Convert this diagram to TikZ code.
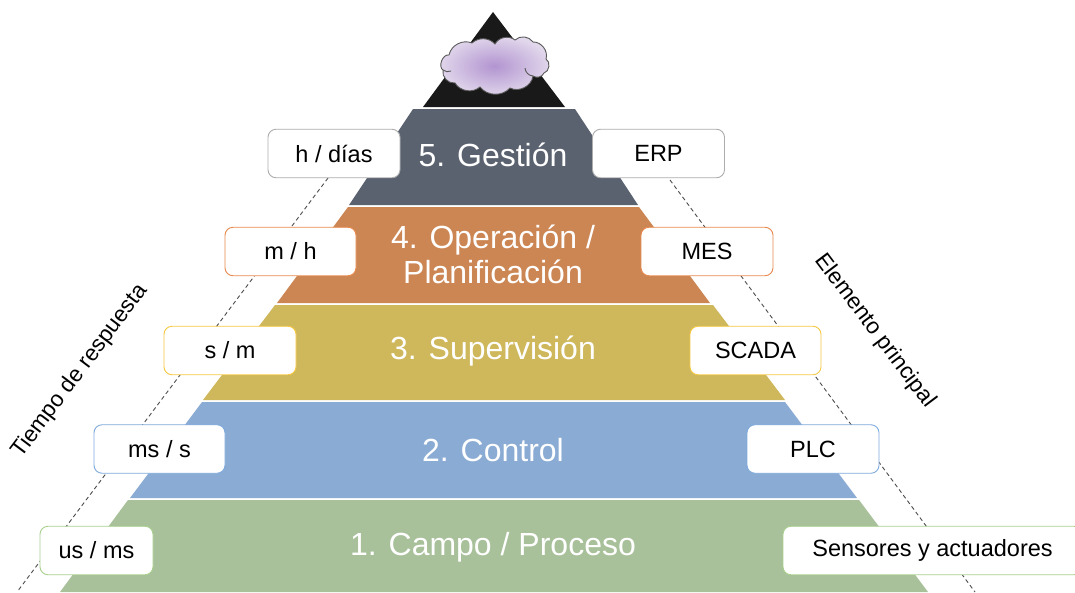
\documentclass[tikz,border=0pt]{standalone}
\usepackage{fontspec}
\setmainfont{Liberation Sans}
\definecolor{cTop}{HTML}{191919}
\definecolor{cGes}{HTML}{5A6270}
\definecolor{cOpe}{HTML}{CC8654}
\definecolor{cSup}{HTML}{CFB85C}
\definecolor{cCon}{HTML}{8AABD3}
\definecolor{cCam}{HTML}{A8C19A}
\definecolor{bGes}{HTML}{ADADAD}
\definecolor{bOpe}{HTML}{E8894E}
\definecolor{bSup}{HTML}{F5C842}
\definecolor{bCon}{HTML}{7EA9DC}
\definecolor{bCam}{HTML}{A9D08E}
\tikzset{
  tagbox/.style={draw=#1,fill=white,line width=0.9pt,rounded corners=8pt,minimum height=48.5pt,inner sep=0pt,text=black,font=\fontsize{23.5}{26}\selectfont},
  lvl/.style={text=white,font=\fontsize{32}{36}\selectfont,align=center,inner sep=0pt},
  side/.style={text=black,font=\fontsize{22.5}{26}\selectfont,inner sep=0pt},
  guide/.style={draw=black!70,line width=0.9pt,dash pattern=on 4pt off 3pt},
  cloudline/.style={draw=black!65,line width=0.9pt}
}
\begin{document}
\begin{tikzpicture}[x=1pt,y=-1pt]
\useasboundingbox (0,0) rectangle (1075,592);
\clip (0,0) rectangle (1075,592);
\fill[white] (0,0) rectangle (1075,592);
% pyramid
\fill[cTop] (493,12) -- (565,107) -- (423,107) -- cycle;
\fill[cGes] (413,109) -- (575,109) -- (638,205) -- (349,205) -- cycle;
\fill[cOpe] (348,207) -- (639,207) -- (710,303) -- (277,303) -- cycle;
\fill[cSup] (275,305) -- (713,305) -- (785,400) -- (203,400) -- cycle;
\fill[cCon] (202,402) -- (785,402) -- (857,498) -- (130,498) -- cycle;
\fill[cCam] (128,500) -- (859,500) -- (928,592) -- (60,592) -- cycle;
% guides
\coordinate (lt) at (328,178);
\coordinate (lb) at (17,592);
\coordinate (rt) at (670,180);
\coordinate (rb) at (975,592);
\draw[guide] (lt) -- (lb);
\draw[guide] (rt) -- (rb);
% cloud
\path[cloudline,inner color=black!0!violet!0,shade,inner color={rgb,255:red,178;green,148;blue,208},outer color={rgb,255:red,226;green,216;blue,236}]
  (449,55) to[bend left=50] (472,43) to[bend left=45] (495,44) to[bend left=50] (515,40)
  to[bend left=50] (533,42) to[bend left=55] (546,59) to[bend left=70] (544,73)
  to[bend left=50] (533,76) to[bend left=55] (510,88) to[bend left=50] (480,87)
  to[bend left=50] (455,83) to[bend left=55] (443,70) to[bend left=80] (449,55) -- cycle;
\draw[cloudline] (443,70) to[bend right=30] (451,71);
\draw[cloudline] (533,76) to[bend left=40] (525,68);
% level labels
\node[lvl] (l5) at (493,155) {5. Gestión};
\node[lvl] (l4) at (493,254) {4. Operación /\\[-1pt]Planificación};
\node[lvl] (l3) at (493,351) {3. Supervisión};
\node[lvl] (l2) at (493,450) {2. Control};
\node[lvl] (l1) at (493,547) {1. Campo / Proceso};
% tags
\node[tagbox=bGes,minimum width=132pt] (t5) at (334,153.5) {h / días};
\node[tagbox=bGes,minimum width=132pt] (e5) at (658.5,153.5) {ERP};
\node[tagbox=bOpe,minimum width=131pt] (t4) at (290.5,251.5) {m / h};
\node[tagbox=bOpe,minimum width=132pt] (e4) at (707,251.5) {MES};
\node[tagbox=bSup,minimum width=132pt] (t3) at (230,350.5) {s / m};
\node[tagbox=bSup,minimum width=131pt] (e3) at (755.5,350.5) {SCADA};
\node[tagbox=bCon,minimum width=131pt] (t2) at (159.5,449) {ms / s};
\node[tagbox=bCon,minimum width=132pt] (e2) at (813,449) {PLC};
\node[tagbox=bCam,minimum width=113pt] (t1) at (96.5,550.5) {us / ms};
\node[tagbox=bCam,minimum width=299pt] (e1) at (932.5,550.5) {Sensores y actuadores};
% side titles
\node[side,rotate=53] (tr) at (80,371) {Tiempo de respuesta};
\node[side,rotate=-53] (ep) at (875,331) {Elemento principal};
\end{tikzpicture}
\end{document}
